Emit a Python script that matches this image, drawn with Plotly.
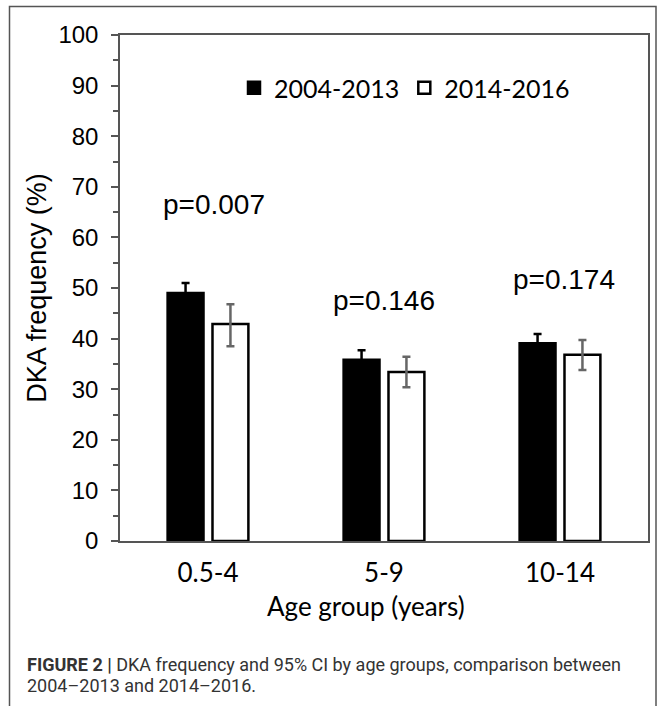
import plotly.graph_objects as go

categories = ["0.5-4", "5-9", "10-14"]
series_names = ["2004-2013", "2014-2016"]
freq_2004_2013 = [49.0, 35.8, 39.1]
ci_hi_2004_2013 = [51.0, 37.7, 40.9]
ci_lo_2004_2013 = [47.0, 33.9, 37.3]
freq_2014_2016 = [42.9, 33.4, 36.8]
ci_hi_2014_2016 = [46.8, 36.4, 39.7]
ci_lo_2014_2016 = [38.5, 30.4, 33.8]
p_values = ["p=0.007", "p=0.146", "p=0.174"]
p_label_y = [66.6, 47.6, 51.6]
y_ticks = list(range(0, 101, 10))

W, H = 665, 706
L, R, T, B = 120, 17, 35, 165
pw, ph = W - L - R, H - T - B


def px_x(px):
    return (px - L) / pw


def px_y(py):
    return (H - B - py) / ph


fig = go.Figure()
fig.add_trace(go.Bar(
    x=categories, y=freq_2004_2013, name=series_names[0],
    marker=dict(color="black", line=dict(color="black", width=2.5)),
    error_y=dict(type="data", symmetric=False,
                 array=[h - v for h, v in zip(ci_hi_2004_2013, freq_2004_2013)],
                 arrayminus=[v - l for l, v in zip(ci_lo_2004_2013, freq_2004_2013)],
                 color="black", thickness=2.5, width=4),
))
fig.add_trace(go.Bar(
    x=categories, y=freq_2014_2016, name=series_names[1],
    marker=dict(color="white", line=dict(color="black", width=2.5)),
    error_y=dict(type="data", symmetric=False,
                 array=[h - v for h, v in zip(ci_hi_2014_2016, freq_2014_2016)],
                 arrayminus=[v - l for l, v in zip(ci_lo_2014_2016, freq_2014_2016)],
                 color="#666666", thickness=2.5, width=4),
))

p_xshift = [6, 0, 4]
for cat, txt, yv, xs in zip(categories, p_values, p_label_y, p_xshift):
    fig.add_annotation(x=cat, y=yv, text=txt, showarrow=False, xref="x", yref="y", xshift=xs,
                       font=dict(family="Liberation Sans, Arial", size=28, color="black"))

# x-axis title
fig.add_annotation(xref="paper", yref="paper", x=px_x(366), y=px_y(606), xanchor="center", yanchor="middle",
                   showarrow=False, text="Age group (years)",
                   font=dict(family="Lato, Calibri", size=26, color="black"))

# caption
fig.add_annotation(xref="paper", yref="paper", x=px_x(25), y=px_y(664), xanchor="left", yanchor="middle",
                   showarrow=False,
                   text="<b>FIGURE 2 |</b> DKA frequency and 95% CI by age groups, comparison between",
                   font=dict(family="Roboto", size=18, color="#333333"))
fig.add_annotation(xref="paper", yref="paper", x=px_x(25), y=px_y(685), xanchor="left", yanchor="middle",
                   showarrow=False, text="2004\u20132013 and 2014\u20132016.",
                   font=dict(family="Roboto", size=18, color="#333333"))

# outer frame
fig.add_shape(type="rect", xref="paper", yref="paper",
              x0=px_x(9.5), x1=px_x(656), y0=px_y(730), y1=px_y(6.5),
              line=dict(color="#555555", width=1.5), fillcolor="rgba(0,0,0,0)", layer="above")

fig.update_layout(
    width=W, height=H,
    margin=dict(l=L, r=R, t=T, b=B),
    paper_bgcolor="white", plot_bgcolor="white",
    barmode="group", bargap=0.49, bargroupgap=0.2,
    showlegend=True,
    legend=dict(orientation="h", x=px_x(234), y=px_y(88), xanchor="left", yanchor="middle",
                font=dict(family="Lato, Calibri", size=25, color="black"),
                bgcolor="rgba(0,0,0,0)", itemwidth=30, traceorder="normal"),
    xaxis=dict(
        showline=True, linecolor="#555555", linewidth=1.5, mirror=True,
        ticks="", tickfont=dict(family="Lato, Calibri", size=26, color="black"),
        ticklabelstandoff=8,
        showgrid=False, zeroline=False,
    ),
    yaxis=dict(
        range=[0, 100], tickvals=y_ticks, showline=True, linecolor="#555555", linewidth=1.5, mirror=True,
        ticks="outside", ticklen=7, tickwidth=1.5, tickcolor="#555555",
        minor=dict(dtick=5, ticks="outside", ticklen=5, tickwidth=1.5, tickcolor="#555555"),
        tickfont=dict(family="Liberation Sans, Arial", size=24, color="black"),
        ticklabelstandoff=8,
        title=dict(text="DKA frequency (%)", font=dict(family="Liberation Sans, Arial", size=27, color="black"),
                   standoff=4),
        showgrid=False, zeroline=False,
    ),
)

fig.write_html("out.html", config={"displayModeBar": False},
               post_script="document.body.style.margin='0';")
